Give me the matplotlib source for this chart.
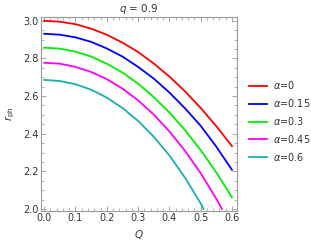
import matplotlib

matplotlib.use("Agg")
import matplotlib.pyplot as plt
from matplotlib.ticker import MultipleLocator

# values
Q = [0.0, 0.05, 0.1, 0.15, 0.2, 0.25, 0.3, 0.35, 0.4, 0.45, 0.5, 0.55, 0.6]
r_a0 = [3.000, 2.995, 2.982, 2.958, 2.926, 2.884, 2.834, 2.773, 2.704, 2.625, 2.537, 2.440, 2.334]
r_a015 = [2.931, 2.926, 2.912, 2.888, 2.853, 2.810, 2.755, 2.693, 2.619, 2.535, 2.442, 2.331, 2.208]
r_a03 = [2.857, 2.852, 2.836, 2.810, 2.772, 2.725, 2.666, 2.595, 2.513, 2.419, 2.313, 2.194, 2.062]
Q_a045 = [0.0, 0.05, 0.1, 0.15, 0.2, 0.25, 0.3, 0.35, 0.4, 0.45, 0.5, 0.55, 0.568]
r_a045 = [2.777, 2.772, 2.755, 2.728, 2.690, 2.640, 2.577, 2.502, 2.412, 2.309, 2.190, 2.054, 2.000]
Q_a06 = [0.0, 0.05, 0.1, 0.15, 0.2, 0.25, 0.3, 0.35, 0.4, 0.45, 0.5, 0.509]
r_a06 = [2.686, 2.680, 2.663, 2.634, 2.592, 2.537, 2.468, 2.384, 2.285, 2.166, 2.030, 2.000]

labels = ["0", "0.15", "0.3", "0.45", "0.6"]
colors = ["#ff0000", "#0000ff", "#00ee00", "#ff00ff", "#17b0b0"]

fig = plt.figure(figsize=(3.11, 2.45), dpi=100)
ax = fig.add_axes([0.132, 0.140, 0.629, 0.789])

series = [(Q, r_a0), (Q, r_a015), (Q, r_a03), (Q_a045, r_a045), (Q_a06, r_a06)]
for (x, y), lab, c in zip(series, labels, colors):
    ax.plot(x, y, color=c, lw=1.3, label=r"$\alpha$=" + lab)

ax.set_xlim(-0.01, 0.615)
ax.set_ylim(1.991, 3.018)
ax.xaxis.set_major_locator(MultipleLocator(0.1))
ax.xaxis.set_minor_locator(MultipleLocator(0.02))
ax.yaxis.set_major_locator(MultipleLocator(0.2))
ax.yaxis.set_minor_locator(MultipleLocator(0.05))
ax.set_xticks([0.0, 0.1, 0.2, 0.3, 0.4, 0.5, 0.6])
ax.set_xticklabels(["0.0", "0.1", "0.2", "0.3", "0.4", "0.5", "0.6"])
ax.set_yticks([2.0, 2.2, 2.4, 2.6, 2.8, 3.0])
ax.set_yticklabels(["2.0", "2.2", "2.4", "2.6", "2.8", "3.0"])

gray = "#999999"
for s in ax.spines.values():
    s.set_color(gray)
    s.set_linewidth(0.8)
ax.tick_params(which="both", direction="in", top=True, right=True,
               colors=gray, labelcolor="#333333", labelsize=7, pad=2)
ax.tick_params(which="major", length=3.5, width=0.6)
ax.tick_params(which="minor", length=2, width=0.5)

ax.set_xlabel(r"$Q$", fontsize=7.5, color="#333333", labelpad=3)
ax.set_ylabel(r"$r_{\mathrm{ph}}$", fontsize=7.5, color="#333333", labelpad=4)
ax.set_title(r"$q$ = 0.9", fontsize=7.5, color="#333333", pad=4)

ax.legend(loc="center left", bbox_to_anchor=(1.02, 0.464), frameon=False,
          fontsize=7, handlelength=1.8, handletextpad=0.6, labelspacing=0.6,
          labelcolor="#333333")

fig.savefig("out.png", dpi=100)
